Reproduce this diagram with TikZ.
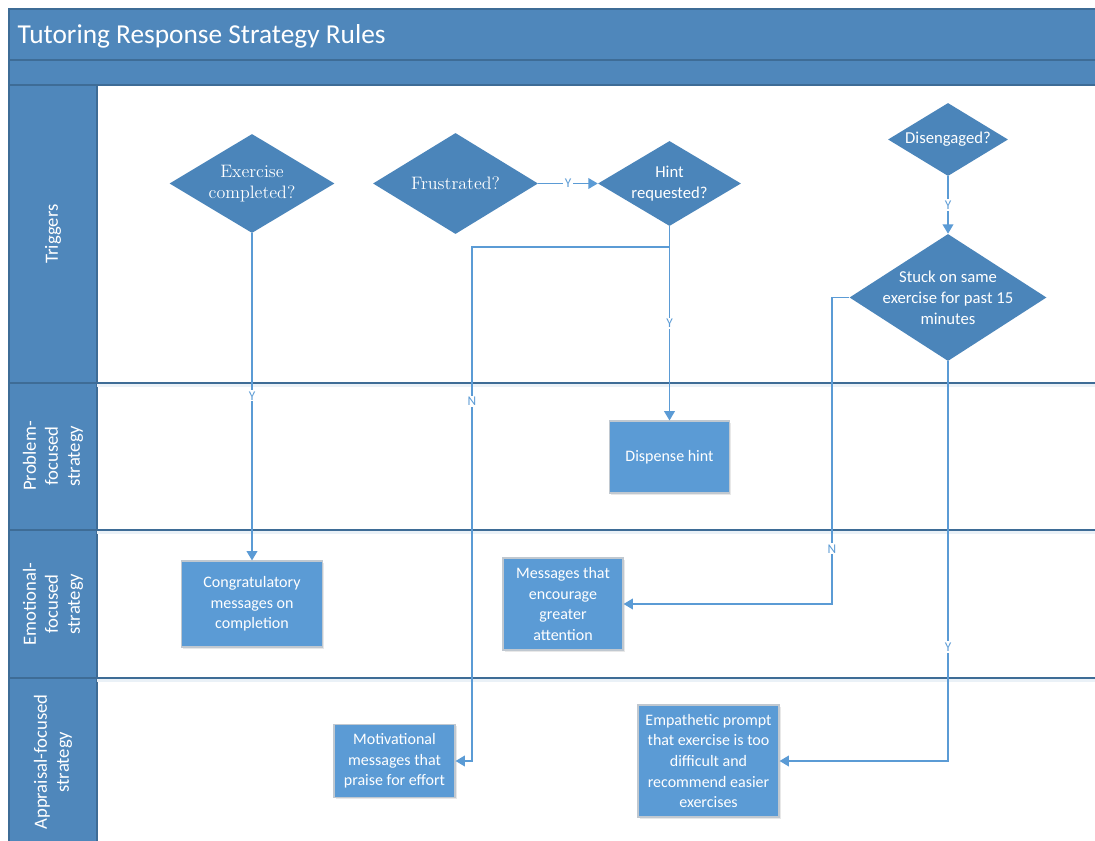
\documentclass[tikz,border=0pt]{standalone}
\usepackage{fontspec}
\newfontfamily\calib{Carlito}
\usetikzlibrary{shapes.geometric,arrows.meta,shadows}
\definecolor{hdr}{RGB}{79,135,187}
\definecolor{hdrline}{RGB}{62,108,150}
\definecolor{decfill}{RGB}{75,133,186}
\definecolor{boxc}{RGB}{91,155,213}
\definecolor{boxline}{RGB}{192,200,208}
\definecolor{wire}{RGB}{91,155,213}
\begin{document}
\begin{tikzpicture}[x=0.75pt,y=-0.75pt,
  band/.style={fill=hdr,draw=hdrline,line width=0.8pt},
  laneline/.style={draw=hdrline,line width=1pt},
  lanetext/.style={rotate=90,text=white,align=center,font=\calib\fontsize{14}{16.5}\selectfont},
  decision/.style={diamond,fill=decfill,draw=none,inner sep=0pt},
  serifq/.style={text=white,align=center,inner sep=0pt,font=\fontsize{13.5}{15.8}\selectfont},
  sansq/.style={text=white,align=center,inner sep=0pt,font=\calib\fontsize{12.5}{15.8}\selectfont},
  action/.style={rectangle,fill=boxc,draw=boxline,line width=0.8pt,text=white,align=center,
    inner sep=2pt,font=\calib\fontsize{12}{15.4}\selectfont,
    drop shadow={shadow xshift=1.2pt,shadow yshift=-1.2pt,opacity=0.18}},
  wire/.style={draw=wire,line width=1.1pt,-{Triangle[width=8pt,length=7pt]}},
  lbl/.style={fill=white,text=wire,inner sep=1pt,font=\calib\fontsize{10}{10}\selectfont}]
\useasboundingbox (0,0) rectangle (1095,841);
\clip (0,0) rectangle (1095,841);

% swimlane frame
\fill[white] (0,0) rectangle (1095,841);
\draw[band] (9,9) rectangle (1110,60);
\draw[band] (9,60) rectangle (1110,85);
\draw[band] (9,85) rectangle (97,860);
\node[anchor=west,text=white,font=\calib\fontsize{20.5}{23}\selectfont] (title) at (13,36) {Tutoring Response Strategy Rules};

\foreach \yy in {383,530,678} {
  \fill[hdr!12] (97,\yy) rectangle (1110,\yy+4);
  \draw[laneline] (9,\yy) -- (1110,\yy);
}

\node[lanetext] (lt) at (53,234) {Triggers};
\node[lanetext] (lp) at (53,456) {Problem-\\focused\\strategy};
\node[lanetext] (le) at (53,604) {Emotional-\\focused\\strategy};
\node[lanetext] (la) at (53,762) {Appraisal-focused\\strategy};

% decisions: the diamond keeps its own size, the question sits on its centre
\node[decision,minimum width={165*0.75pt},minimum height={99*0.75pt},
  label={[serifq]center:Exercise\\completed?}] (ex) at (252,183.5) {};
\node[decision,minimum width={165*0.75pt},minimum height={101*0.75pt},
  label={[serifq]center:Frustrated?}] (fru) at (455.5,183.5) {};
\node[decision,minimum width={143*0.75pt},minimum height={85*0.75pt},
  label={[sansq]center:Hint\\requested?}] (hint) at (669.5,183.5) {};
\node[decision,minimum width={120*0.75pt},minimum height={73*0.75pt},
  label={[sansq]center:Disengaged?}] (dis) at (948,139.5) {};
\node[decision,minimum width={197*0.75pt},minimum height={127*0.75pt},
  label={[sansq]center:Stuck on same\\exercise for past 15\\minutes}] (stuck) at (948,297.5) {};

% actions
\node[action,minimum width={120*0.75pt},minimum height={72*0.75pt}] (disp) at (669.5,457) {Dispense hint};
\node[action,minimum width={141*0.75pt},minimum height={86*0.75pt}] (cong) at (252,604) {Congratulatory\\messages on\\completion};
\node[action,minimum width={120*0.75pt},minimum height={92*0.75pt}] (msg) at (563,604) {Messages that\\encourage\\greater\\attention};
\node[action,minimum width={121*0.75pt},minimum height={73*0.75pt}] (mot) at (394.5,761) {Motivational\\messages that\\praise for effort};
\node[action,minimum width={141*0.75pt},minimum height={112*0.75pt}] (emp) at (708.5,761) {Empathetic prompt\\that exercise is too\\difficult and\\recommend easier\\exercises};

% connectors
\coordinate (nb) at (472,247);
\coordinate (sn) at (832,297.5);
\draw[wire] (ex.south) -- node[lbl,pos=0.497]{Y} (cong.north);
\draw[wire] (fru.east) -- node[lbl]{Y} (hint.west);
\draw[wire] (hint.south) -- node[lbl,pos=0.5]{Y} (disp.north);
\draw[wire] (hint.south) |- (nb) -- node[lbl,pos=0.30]{N} (nb |- mot.east) -- (mot.east);
\draw[wire] (dis.south) -- node[lbl]{Y} (stuck.north);
\draw[wire] (stuck.west) -- (sn) -- node[lbl,pos=0.82]{N} (sn |- msg.east) -- (msg.east);
\draw[wire] (stuck.south) -- node[lbl,pos=0.715]{Y} (stuck.south |- emp.east) -- (emp.east);
\end{tikzpicture}
\end{document}
